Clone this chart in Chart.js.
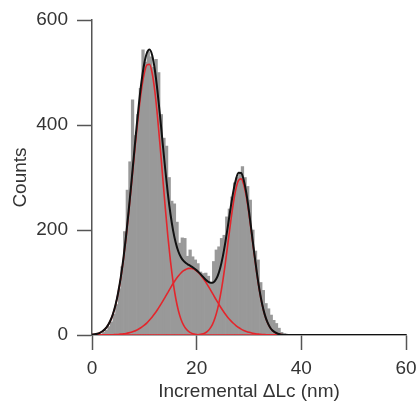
<!DOCTYPE html>
<html>
<head>
<meta charset="utf-8">
<script src="https://cdn.jsdelivr.net/npm/chart.js@4/dist/chart.umd.min.js"></script>
<style>
html,body{margin:0;padding:0;background:#fff;}
#wrap{width:419px;height:404px;}
</style>
</head>
<body>
<div id="wrap"><canvas id="c" width="419" height="404"></canvas></div>
<script>
// Histogram bin centres (nm) and counts
const binCenters = [0.25,0.75,1.25,1.75,2.25,2.75,3.25,3.75,4.25,4.75,5.25,5.75,6.25,6.75,7.25,7.75,8.25,8.75,9.25,9.75,10.25,10.75,11.25,11.75,12.25,12.75,13.25,13.75,14.25,14.75,15.25,15.75,16.25,16.75,17.25,17.75,18.25,18.75,19.25,19.75,20.25,20.75,21.25,21.75,22.25,22.75,23.25,23.75,24.25,24.75,25.25,25.75,26.25,26.75,27.25,27.75,28.25,28.75,29.25,29.75,30.25,30.75,31.25,31.75,32.25,32.75,33.25,33.75,34.25,34.75,35.25,35.75,36.25,36.75,37.25];
const counts = [0,0,1,2,5,9,16,25,40,58,88,130,197,276,330,448,380,420,470,543,520,540,530,510,525,500,420,375,360,300,255,250,215,175,185,184,150,162,149,143,136,120,117,118,112,100,140,162,168,184,190,225,240,263,290,300,310,321,300,283,257,200,160,143,100,85,60,50,38,28,22,13,5,2,1];

// Fit curves sampled at these x positions (nm)
const fitX = [0,0.5,1,1.5,2,2.5,3,3.5,4,4.5,5,5.5,6,6.5,7,7.5,8,8.5,9,9.5,10,10.5,11,11.5,12,12.5,13,13.5,14,14.5,15,15.5,16,16.5,17,17.5,18,18.5,19,19.5,20,20.5,21,21.5,22,22.5,23,23.5,24,24.5,25,25.5,26,26.5,27,27.5,28,28.5,29,29.5,30,30.5,31,31.5,32,32.5,33,33.5,34,34.5,35,35.5,36,36.5,37,37.5,38,40,45,50,55,60];
const fitTotal = [0.8,1.4,2.5,4.2,7.1,11.4,17.9,27.2,40.1,57.7,80.9,110.1,145.9,188.0,235.8,287.6,341.4,394.5,443.6,485.7,517.7,537.6,543.9,532.9,505.7,465.6,417.3,365.6,315.2,269.0,230.0,198.8,175.6,159.1,148.2,141.2,136.6,133.4,130.4,127.1,123.1,118.4,113.1,107.7,103.1,99.9,99.5,103.3,112.3,127.7,149.7,177.8,209.8,243.0,273.2,296.3,308.9,308.6,295.0,269.7,235.5,196.3,156.2,118.7,86.1,59.5,39.3,24.8,14.9,8.5,4.8,2.5,1.2,0.6,0.3,0.1,0,0,0,0,0,0];
const peak1 = [0.8,1.4,2.5,4.2,7.0,11.2,17.6,26.8,39.6,56.9,79.8,108.5,143.7,185.0,231.8,282.3,334.4,385.3,431.8,470.7,498.9,514.4,515.5,498.6,464.8,417.5,361.4,301.5,242.5,187.7,140.1,100.8,70.0,46.7,30.1,18.7,11.2,6.4,3.6,1.9,1.0,0.5,0.2,0,0,0,0,0,0,0,0,0,0,0,0,0,0,0,0,0,0,0,0,0,0,0,0,0,0,0,0,0,0,0,0,0,0,0,0,0,0,0];
const peak2 = [0,0,0,0,0.1,0.2,0.3,0.4,0.5,0.8,1.1,1.6,2.2,3.0,4.0,5.3,7.0,9.2,11.8,15.0,18.8,23.2,28.4,34.3,40.9,48.1,55.9,64.1,72.7,81.3,89.9,98.0,105.6,112.4,118.1,122.5,125.4,126.9,126.7,125.0,121.7,117.0,111.1,104.2,96.5,88.2,79.6,71.0,62.5,54.3,46.6,39.5,33.0,27.4,22.3,18.0,14.3,11.2,8.7,6.7,5.1,3.8,2.8,2.0,1.5,1.0,0.7,0.5,0.3,0.2,0.15,0.1,0,0,0,0,0,0,0,0,0,0];
const peak3 = [0,0,0,0,0,0,0,0,0,0,0,0,0,0,0,0,0,0,0,0,0,0,0,0,0,0,0,0,0,0,0,0,0,0,0,0,0,0,0,0.2,0.4,0.9,1.8,3.5,6.6,11.7,19.9,32.3,49.8,73.4,103.1,138.3,176.8,215.6,250.9,278.3,294.6,297.4,286.3,263.0,230.4,192.5,153.4,116.7,84.6,58.5,38.6,24.3,14.6,8.3,4.6,2.4,1.2,0.6,0.3,0.1,0,0,0,0,0,0];

// Axis ticks
const xTicks = [0,20,40,60];
const yTicks = [0,200,400,600];

const pts = (xs, ys) => xs.map((x, i) => ({x: x, y: ys[i]}));

const FONT = 'Liberation Sans, Arial, Helvetica, sans-serif';
const AXIS = '#555555';
const TXT = '#333333';
const RED = '#e3262c';

const lineDs = (label, ys, color, width, order) => ({
  type: 'line', label: label, data: pts(fitX, ys),
  borderColor: color, borderWidth: width, pointRadius: 0,
  fill: false, cubicInterpolationMode: 'monotone', order: order
});

new Chart(document.getElementById('c'), {
  type: 'bar',
  data: {
    datasets: [
      lineDs('Fit', fitTotal, '#111111', 2, 0),
      lineDs('Peak 1', peak1, RED, 1.6, 1),
      lineDs('Peak 2', peak2, RED, 1.6, 1),
      lineDs('Peak 3', peak3, RED, 1.6, 1),
      {
        type: 'bar', label: 'Counts', data: pts(binCenters, counts),
        backgroundColor: '#999999', borderWidth: 0,
        barPercentage: 1, categoryPercentage: 1, order: 2
      }
    ]
  },
  options: {
    responsive: false,
    devicePixelRatio: 1,
    animation: false,
    layout: {padding: {top: 20, right: 13, left: 0, bottom: 0}},
    plugins: {legend: {display: false}, tooltip: {enabled: false}},
    scales: {
      x: {
        type: 'linear', min: 0, max: 60, offset: false,
        afterBuildTicks: s => { s.ticks = xTicks.map(v => ({value: v})); },
        afterFit: s => { s.height = 69; s.paddingLeft = 0; s.paddingRight = 0; },
        ticks: {font: {family: FONT, size: 19}, color: TXT, padding: 7, maxRotation: 0},
        grid: {display: true, drawOnChartArea: false, drawTicks: true, tickLength: 15, color: AXIS, tickWidth: 1.5, offset: false},
        border: {display: true, color: AXIS, width: 1.5},
        title: {display: true, text: 'Incremental ΔLc (nm)', font: {family: FONT, size: 19}, color: TXT, padding: {top: 0, bottom: 1}}
      },
      y: {
        type: 'linear', min: 0, max: 600,
        afterBuildTicks: s => { s.ticks = yTicks.map(v => ({value: v})); },
        afterFit: s => { s.width = 92; s.paddingTop = 0; s.paddingBottom = 0; },
        ticks: {font: {family: FONT, size: 19}, color: TXT, padding: 9},
        grid: {display: true, drawOnChartArea: false, drawTicks: true, tickLength: 15, color: AXIS, tickWidth: 1.5},
        border: {display: true, color: AXIS, width: 1.5},
        title: {display: true, text: 'Counts', font: {family: FONT, size: 19}, color: TXT, padding: {top: 9, bottom: 0}}
      }
    }
  }
});
</script>
</body>
</html>
